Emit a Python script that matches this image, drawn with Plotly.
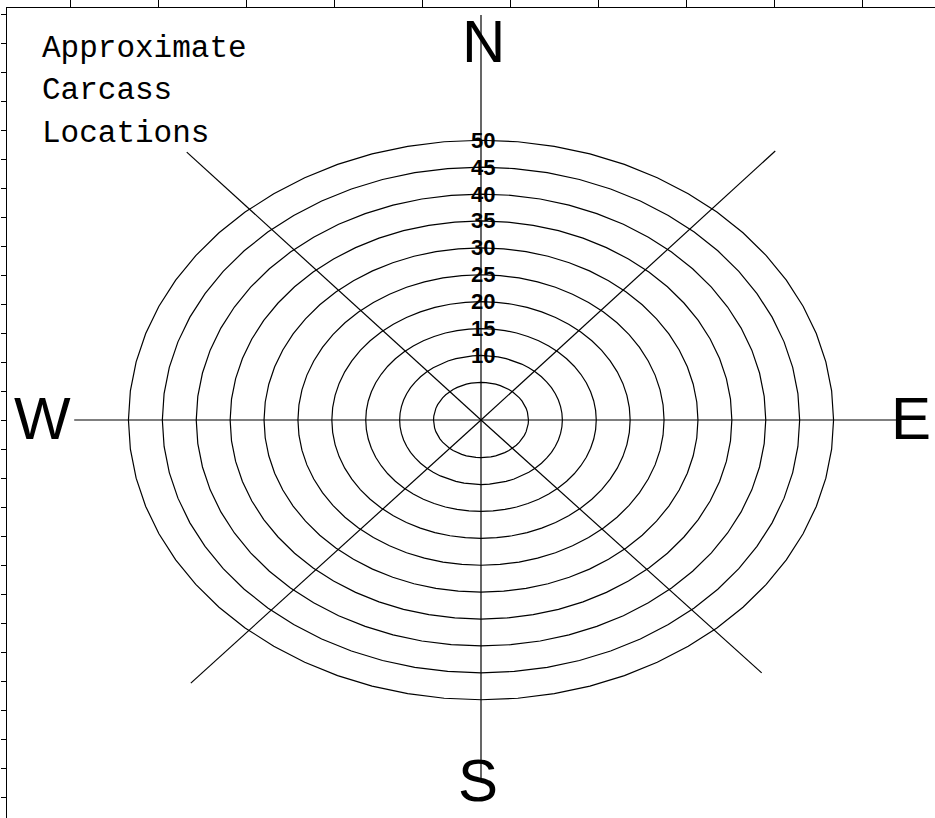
import numpy as np
import plotly.graph_objects as go

# ---- data ----
ring_values = [5, 10, 15, 20, 25, 30, 35, 40, 45, 50]
ring_labels = ["10", "15", "20", "25", "30", "35", "40", "45", "50"]
label_rings = [10, 15, 20, 25, 30, 35, 40, 45, 50]
ring_offset = 2.0  # radial axis starts slightly below zero

# spokes: end points (data units) of the diagonal and cardinal lines
spoke_x_end = [43.4, 41.4, -42.8, -43.4]
spoke_y_end = [50.0, -47.0, -48.9, 49.8]
ns_line_y = [75.3, -67.3]
we_line_x = [-60.0, 61.8]

compass_text = ["N", "S", "W", "E"]
title_lines = ["Approximate", "Carcass", "Locations"]

# ---- figure geometry (pixel scales) ----
W, H = 935, 818
L, T = 7, 8
cx_px, cy_px = 481, 420
sx, sy = 6.78, 5.38  # px per data unit

xr = [(L - cx_px) / sx, (W - cx_px) / sx]
yr = [(cy_px - H) / sy, (cy_px - T) / sy]

def px2x(px):
    return (px - cx_px) / sx

def py2y(py):
    return (cy_px - py) / sy

fig = go.Figure()
line = dict(color="black", width=1.2)

theta = np.linspace(0, 2 * np.pi, 61)
for r in ring_values:
    rr = r + ring_offset
    fig.add_trace(go.Scatter(x=rr * np.cos(theta), y=rr * np.sin(theta),
                             mode="lines", line=line, hoverinfo="skip"))

for ex, ey in zip(spoke_x_end, spoke_y_end):
    fig.add_trace(go.Scatter(x=[0, ex], y=[0, ey], mode="lines", line=line,
                             hoverinfo="skip"))
fig.add_trace(go.Scatter(x=[0, 0], y=ns_line_y, mode="lines", line=line, hoverinfo="skip"))
fig.add_trace(go.Scatter(x=we_line_x, y=[0, 0], mode="lines", line=line, hoverinfo="skip"))

anns = []
for lab, r in zip(ring_labels, label_rings):
    anns.append(dict(x=0.3, y=r + ring_offset, text=lab, showarrow=False,
                     xanchor="center", yanchor="middle",
                     font=dict(family="Liberation Sans", size=22, color="black", weight="bold")))

big = dict(family="Liberation Sans", size=60, color="black")
anns.append(dict(x=px2x(483), y=py2y(41), text=compass_text[0], showarrow=False,
                 xanchor="center", yanchor="middle", font=big))
anns.append(dict(x=px2x(478), y=py2y(780), text=compass_text[1], showarrow=False,
                 xanchor="center", yanchor="middle", font=big))
anns.append(dict(x=px2x(42), y=py2y(418), text=compass_text[2], showarrow=False,
                 xanchor="center", yanchor="middle", font=big))
anns.append(dict(x=px2x(911), y=py2y(418), text=compass_text[3], showarrow=False,
                 xanchor="center", yanchor="middle", font=big))

for i, t in enumerate(title_lines):
    anns.append(dict(x=px2x(40), y=py2y(48 + 42.5 * i), text=t, showarrow=False,
                     xanchor="left", yanchor="middle",
                     font=dict(family="Courier New, Nimbus Mono PS, FreeMono, Liberation Mono",
                               size=31, color="black")))

fig.update_layout(
    width=W, height=H,
    margin=dict(l=L, r=0, t=T, b=0),
    plot_bgcolor="white", paper_bgcolor="white",
    showlegend=False,
    annotations=anns,
    xaxis=dict(range=xr, side="top", showline=True, linecolor="black", linewidth=1,
               ticks="outside", ticklen=8, tickcolor="black", showticklabels=False,
               tick0=px2x(510), dtick=88 / sx, showgrid=False, zeroline=False,
               fixedrange=True),
    yaxis=dict(range=yr, showline=True, linecolor="black", linewidth=1,
               ticks="outside", ticklen=5, tickcolor="black", showticklabels=False,
               tick0=0, dtick=29 / sy, showgrid=False, zeroline=False,
               fixedrange=True),
)

fig.write_html("out.html", config={"displayModeBar": False},
               post_script="document.body.style.margin='0';document.body.style.overflow='hidden';")
